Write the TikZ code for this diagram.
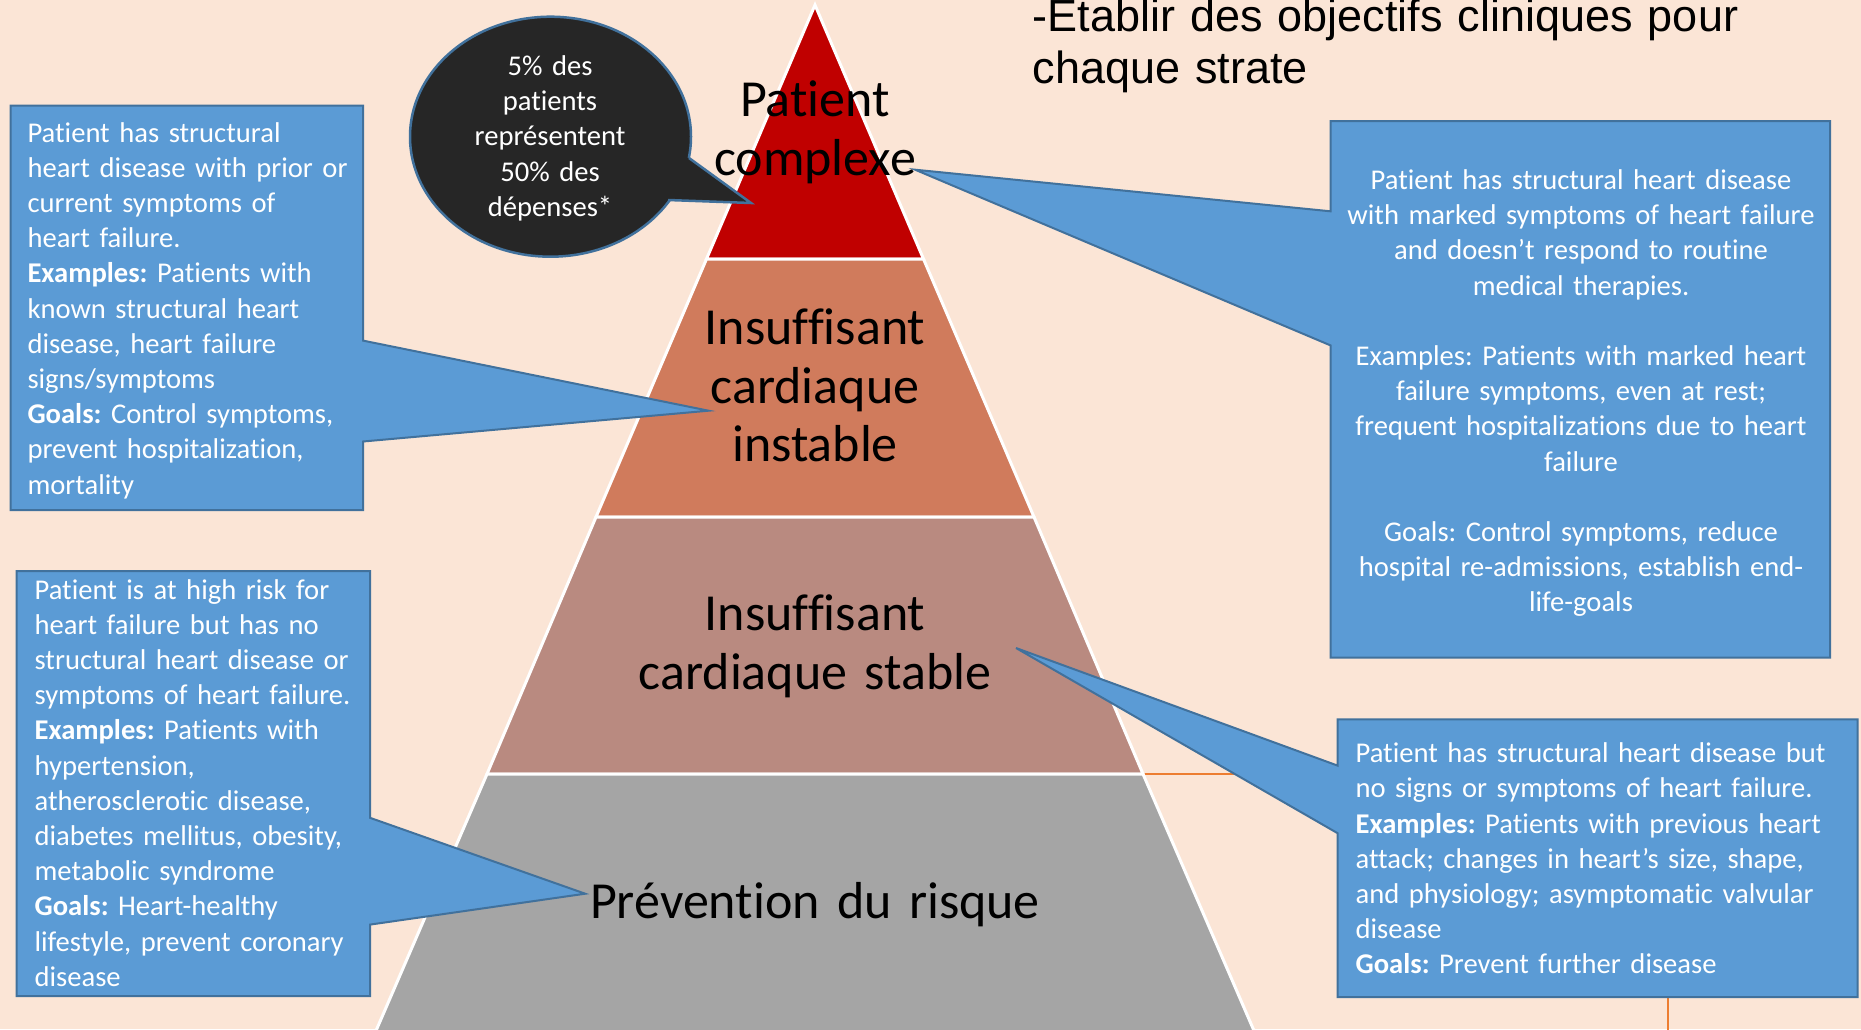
\documentclass[tikz,border=0pt]{standalone}
\usepackage{fontspec}
\setmainfont{Carlito}[Ligatures={TeX,NoCommon}]
\newfontfamily\titlefont{Liberation Sans}
\usetikzlibrary{shapes.geometric}

\definecolor{bg}{HTML}{FBE5D6}
\definecolor{tierred}{HTML}{C00000}
\definecolor{tierorange}{HTML}{D07B5C}
\definecolor{tierrose}{HTML}{B98A80}
\definecolor{tiergray}{HTML}{A5A5A5}
\definecolor{cblue}{HTML}{5B9BD5}
\definecolor{cborder}{HTML}{41719C}
\definecolor{bubblefill}{HTML}{262626}
\definecolor{lineorange}{HTML}{ED7D31}

\tikzset{
  tier/.style={draw=white, line width=3pt, line join=miter},
  tierlabel/.style={inner sep=0pt, anchor=base, text width=520pt, align=center,
    font=\fontsize{52}{58.5}\selectfont},
  callout/.style={fill=cblue, draw=cborder, line width=2pt, line join=miter},
  boxtext/.style={inner sep=0pt, text=white, align=left,
    font=\fontsize{28.6}{35.2}\selectfont},
  orangeline/.style={draw=lineorange, line width=2pt},
}

\begin{document}
\frenchspacing
\begin{tikzpicture}[x=1pt,y=-1pt]
\useasboundingbox (0,0) rectangle (1861,1029);
\clip (0,0) rectangle (1861,1029);
\fill[bg] (0,0) rectangle (1861,1029);

% pyramid corners
\coordinate (apex) at (815,5);
\coordinate (l1) at (706.5,259);
\coordinate (r1) at (923.5,259);
\coordinate (l2) at (596,517);
\coordinate (r2) at (1034,517);
\coordinate (l3) at (487,774);
\coordinate (r3) at (1143,774);
\coordinate (l4) at (372,1040);
\coordinate (r4) at (1258,1040);

% orange elbow connector running behind the lower right box
\coordinate (oend) at (1667.6,1040);
\draw[orangeline] (r3) -| (oend);

% pyramid tiers
\filldraw[tier, fill=tierred] (apex) -- (r1) -- (l1) -- cycle;
\filldraw[tier, fill=tierorange] (l1) -- (r1) -- (r2) -- (l2) -- cycle;
\filldraw[tier, fill=tierrose] (l2) -- (r2) -- (r3) -- (l3) -- cycle;
\filldraw[tier, fill=tiergray] (l3) -- (r3) -- (r4) -- (l4) -- cycle;

% speech bubble
\node[ellipse, fill=bubblefill, draw=cborder, line width=2.5pt,
      minimum width=281pt, minimum height=240pt, inner sep=0pt] (bubble) at (550.5,136.7) {};
\coordinate (bt1) at (689,158);
\coordinate (btip) at (751,203);
\coordinate (bt2) at (668,200);
\fill[bubblefill] (bt1) -- (btip) -- (bt2) -- (bubble.center) -- cycle;
\draw[cborder, line width=2.5pt, line join=miter] (bt1) -- (btip) -- (bt2);
\node[boxtext, anchor=base, text width=260pt, align=center] (bubbletext) at (550,75.5)
  {5\% des\\patients\\représentent\\50\% des\\dépenses*};

% callout: upper left
\coordinate (tipA) at (708.6,410.7);
\filldraw[callout] (10.7,105.6) -- (363,105.6) -- (363,340.6) -- (tipA)
  -- (363,441.5) -- (363,510) -- (10.7,510) -- cycle;
\node[boxtext, anchor=base west, text width=340pt] (textA) at (27.3,142)
  {Patient has structural\\heart disease with prior or\\current symptoms of\\heart failure.\\
   \textbf{Examples:} Patients with\\known structural heart\\disease, heart failure\\signs/symptoms\\
   \textbf{Goals:} Control symptoms,\\prevent hospitalization,\\mortality};

% callout: lower left
\coordinate (tipB) at (585.2,893.7);
\filldraw[callout] (16.6,571) -- (370,571) -- (370,817.8) -- (tipB)
  -- (370,924.6) -- (370,996) -- (16.6,996) -- cycle;
\node[boxtext, anchor=base west, text width=340pt] (textB) at (34.4,599)
  {Patient is at high risk for\\heart failure but has no\\structural heart disease or\\symptoms of heart failure.\\
   \textbf{Examples:} Patients with\\hypertension,\\atherosclerotic disease,\\diabetes mellitus, obesity,\\metabolic syndrome\\
   \textbf{Goals:} Heart-healthy\\lifestyle, prevent coronary\\disease};

% callout: upper right
\coordinate (tipC) at (915.1,169.7);
\filldraw[callout] (1330.5,121) -- (1830,121) -- (1830,657.5) -- (1330.5,657.5)
  -- (1330.5,345.4) -- (tipC) -- (1330.5,211.3) -- cycle;
\node[boxtext, anchor=base, text width=490pt, align=center] (textC) at (1581,189.4)
  {Patient has structural heart disease\\with marked symptoms of heart failure\\and doesn’t respond to routine\\medical therapies.\\[35.2pt]
   Examples: Patients with marked heart\\failure symptoms, even at rest;\\frequent hospitalizations due to heart\\failure\\[35.2pt]
   Goals: Control symptoms, reduce\\hospital re-admissions, establish end-\\life-goals};

% callout: lower right
\coordinate (tipD) at (1016,648);
\filldraw[callout] (1337.6,719.3) -- (1857.5,719.3) -- (1857.5,997) -- (1337.6,997)
  -- (1337.6,833.2) -- (tipD) -- (1337.6,765.6) -- cycle;
\node[boxtext, anchor=base west, text width=500pt] (textD) at (1355.4,762.7)
  {Patient has structural heart disease but\\no signs or symptoms of heart failure.\\
   \textbf{Examples:} Patients with previous heart\\attack; changes in heart’s size, shape,\\and physiology; asymptomatic valvular\\disease\\
   \textbf{Goals:} Prevent further disease};

% tier labels
\node[tierlabel] (lab1) at (815,116.7) {Patient\\complexe};
\node[tierlabel] (lab2) at (815,344.6) {Insuffisant\\cardiaque\\instable};
\node[tierlabel] (lab3) at (815,630.6) {Insuffisant\\cardiaque stable};
\node[tierlabel] (lab4) at (815,918) {Prévention du risque};

% heading, partly running off the top edge
\node[inner sep=0pt, anchor=base west, align=left, text width=800pt,
      font=\titlefont\fontsize{45}{52}\selectfont] (title) at (1032.6,31.5)
  {-Etablir des objectifs cliniques pour\\chaque strate};
\end{tikzpicture}
\end{document}
